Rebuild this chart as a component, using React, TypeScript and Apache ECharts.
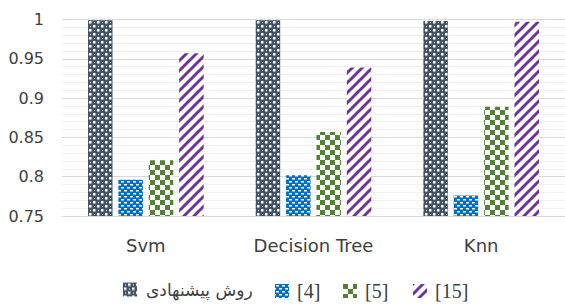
import React, { useEffect, useRef } from "react";
import * as echarts from "echarts";

const categories = ["Svm", "Decision Tree", "Knn"];
const seriesNames = ["روش پیشنهادی", "[4]", "[5]", "[15]"];
const proposedValues = [0.999, 0.999, 0.998];
const ref4Values = [0.796, 0.802, 0.776];
const ref5Values = [0.821, 0.857, 0.889];
const ref15Values = [0.957, 0.939, 0.997];
const yMin = 0.75;
const yMax = 1;
const yInterval = 0.05;

function makeTile(w: number, h: number, draw: (ctx: CanvasRenderingContext2D) => void) {
  const c = document.createElement("canvas");
  c.width = w;
  c.height = h;
  const ctx = c.getContext("2d")!;
  draw(ctx);
  return { image: c, repeat: "repeat", imageWidth: w, imageHeight: h } as any;
}

export default function App() {
  const ref = useRef<HTMLDivElement>(null);
  useEffect(() => {
    document.body.style.margin = "0";
    const chart = echarts.init(ref.current!, null, { renderer: "svg" });

    const darkPat = makeTile(8, 8, (ctx) => {
      ctx.fillStyle = "#44546A";
      ctx.fillRect(0, 0, 8, 8);
      ctx.fillStyle = "#ffffff";
      ctx.fillRect(5, 1, 2.5, 2.5);
      ctx.fillRect(1, 5, 2.5, 2.5);
      ctx.fillRect(2, 2, 1, 1);
      ctx.fillRect(6, 6, 1, 1);
    });
    const bluePat = makeTile(6, 6, (ctx) => {
      ctx.fillStyle = "#0070C0";
      ctx.fillRect(0, 0, 6, 6);
      ctx.fillStyle = "#ffffff";
      ctx.fillRect(1, 1, 3, 1.5);
      ctx.fillRect(4, 4, 3, 1.5);
      ctx.fillRect(-2, 4, 3, 1.5);
    });
    const greenPat = makeTile(10, 10, (ctx) => {
      ctx.fillStyle = "#ffffff";
      ctx.fillRect(0, 0, 10, 10);
      ctx.fillStyle = "#548235";
      ctx.fillRect(0, 0, 5, 5);
      ctx.fillRect(5, 5, 5, 5);
    });
    const purplePat = makeTile(10, 10, (ctx) => {
      ctx.fillStyle = "#ffffff";
      ctx.fillRect(0, 0, 10, 10);
      ctx.strokeStyle = "#7030A0";
      ctx.lineWidth = 3;
      for (const k of [-10, 0, 10]) {
        ctx.beginPath();
        ctx.moveTo(k - 1, 11);
        ctx.lineTo(k + 11, -1);
        ctx.stroke();
      }
    });

    const patterns = [darkPat, bluePat, greenPat, purplePat];
    const dataSets = [proposedValues, ref4Values, ref5Values, ref15Values];
    const legendLefts = [123, 275, 343, 413];

    const faText = { fontFamily: "DejaVu Sans", fontSize: 17, color: "#404040", padding: [0, 0, 0, 4] };
    const refText = { fontFamily: "Liberation Serif", fontSize: 20, color: "#404040", padding: [0, 0, 0, 3] };

    chart.setOption({
      animation: false,
      grid: { left: 62, right: 0, top: 19.5, bottom: 91 },
      legend: seriesNames.map((name, i) => ({
        data: [name],
        left: legendLefts[i],
        top: 281,
        padding: 0,
        itemWidth: 14,
        itemHeight: 14,
        icon: "rect",
        textStyle: i === 0 ? faText : refText,
      })),
      xAxis: {
        type: "category",
        data: categories,
        axisLine: { show: true, lineStyle: { color: "#D9D9D9", width: 1 } },
        axisTick: { show: false },
        axisLabel: { fontFamily: "DejaVu Sans", fontSize: 18, color: "#404040", margin: 20 },
      },
      yAxis: {
        type: "value",
        min: yMin,
        max: yMax,
        interval: yInterval,
        axisLine: { show: false },
        axisTick: { show: false },
        axisLabel: { fontFamily: "DejaVu Sans", fontSize: 16, color: "#404040", margin: 18 },
        splitLine: { show: true, lineStyle: { color: "#D9D9D9", width: 1 } },
        minorTick: { show: false, splitNumber: 5 },
        minorSplitLine: { show: true, lineStyle: { color: "#EFEFEF", width: 1 } },
      },
      series: seriesNames.map((name, i) => ({
        name,
        type: "bar",
        data: dataSets[i],
        barWidth: 24.5,
        barGap: "24%",
        itemStyle: { color: patterns[i] },
      })),
    });
    return () => chart.dispose();
  }, []);
  return <div ref={ref} style={{ width: 565, height: 307 }} />;
}
